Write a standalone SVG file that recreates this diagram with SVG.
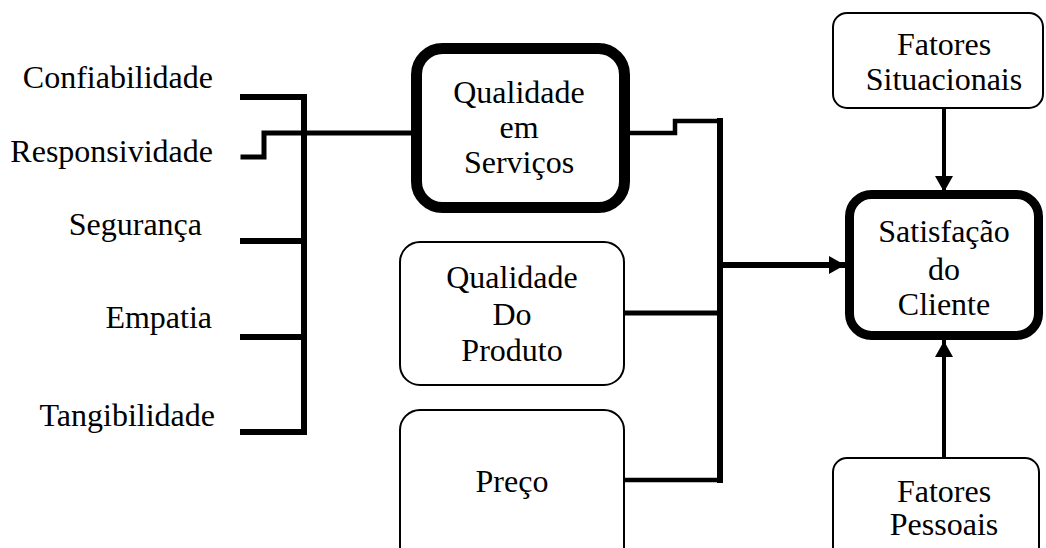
<svg xmlns="http://www.w3.org/2000/svg" width="1046" height="548" viewBox="0 0 1046 548">
<style>
text{font-family:'Liberation Serif','DejaVu Serif',serif;font-size:32px;fill:#000}
.c{text-anchor:middle}
.e{text-anchor:end}
.thin{fill:#fff;stroke:#000;stroke-width:2}
.thick{fill:#fff;stroke:#000}
.ln{fill:none;stroke:#000;stroke-linejoin:miter;stroke-linecap:square}
</style>
<defs>
<marker id="ah" markerUnits="userSpaceOnUse" markerWidth="18" markerHeight="18" viewBox="0 0 16 18" refX="16" refY="9" orient="auto">
<path d="M0,0 L16,9 L0,18 Z" fill="#000"/>
</marker>
</defs>
<rect width="1046" height="548" fill="#fff"/>
<g id="labels" font-family="Liberation Serif, DejaVu Serif, serif">
<text class="e" x="213" y="88">Confiabilidade</text>
<text class="e" x="213" y="162">Responsividade</text>
<text class="e" x="202" y="235">Segurança</text>
<text class="e" x="212" y="328">Empatia</text>
<text class="e" x="215" y="426">Tangibilidade</text>
</g>
<g id="connectors">
<path class="ln" stroke-width="6" d="M243,97 H304 V432 H243"/>
<path class="ln" stroke-width="6" d="M243,241 H304"/>
<path class="ln" stroke-width="6" d="M243,337 H304"/>
<path class="ln" stroke-width="5" d="M243,157 H264 V133 H412"/>
<path class="ln" stroke-width="4.5" d="M628,133 H675 V121 H720 V480 H626"/>
<path class="ln" stroke-width="6" d="M720,121 V480"/>
<path class="ln" stroke-width="5" d="M626,313 H720"/>
<path class="ln" stroke-width="6" stroke-linecap="butt" d="M720,265 H845" marker-end="url(#ah)"/>
<path class="ln" stroke-width="4" stroke-linecap="butt" d="M944,108 V192" marker-end="url(#ah)"/>
<path class="ln" stroke-width="4" stroke-linecap="butt" d="M944,458 V341" marker-end="url(#ah)"/>
</g>
<g id="qualidade-servicos">
<rect class="thick" stroke-width="11" x="416.5" y="48.5" width="208" height="159" rx="26"/>
<text class="c" x="519" y="103">Qualidade</text>
<text class="c" x="519" y="138">em</text>
<text class="c" x="519" y="173">Serviços</text>
</g>
<g id="qualidade-produto">
<rect class="thin" x="400" y="242" width="224" height="143" rx="20"/>
<text class="c" x="512" y="288">Qualidade</text>
<text class="c" x="512" y="325">Do</text>
<text class="c" x="512" y="361">Produto</text>
</g>
<g id="preco">
<rect class="thin" x="400" y="410" width="224" height="170" rx="20"/>
<text class="c" x="512" y="492">Preço</text>
</g>
<g id="satisfacao">
<rect class="thick" stroke-width="9" x="849.5" y="194.5" width="189" height="141" rx="22"/>
<text class="c" x="944" y="242">Satisfação</text>
<text class="c" x="944" y="280">do</text>
<text class="c" x="944" y="315">Cliente</text>
</g>
<g id="fatores-situacionais">
<rect class="thin" x="833" y="13" width="210" height="95" rx="14"/>
<text class="c" x="944" y="55">Fatores</text>
<text class="c" x="944" y="90">Situacionais</text>
</g>
<g id="fatores-pessoais">
<rect class="thin" x="833" y="458" width="206" height="120" rx="14"/>
<text class="c" x="944" y="502">Fatores</text>
<text class="c" x="944" y="535">Pessoais</text>
</g>
</svg>
